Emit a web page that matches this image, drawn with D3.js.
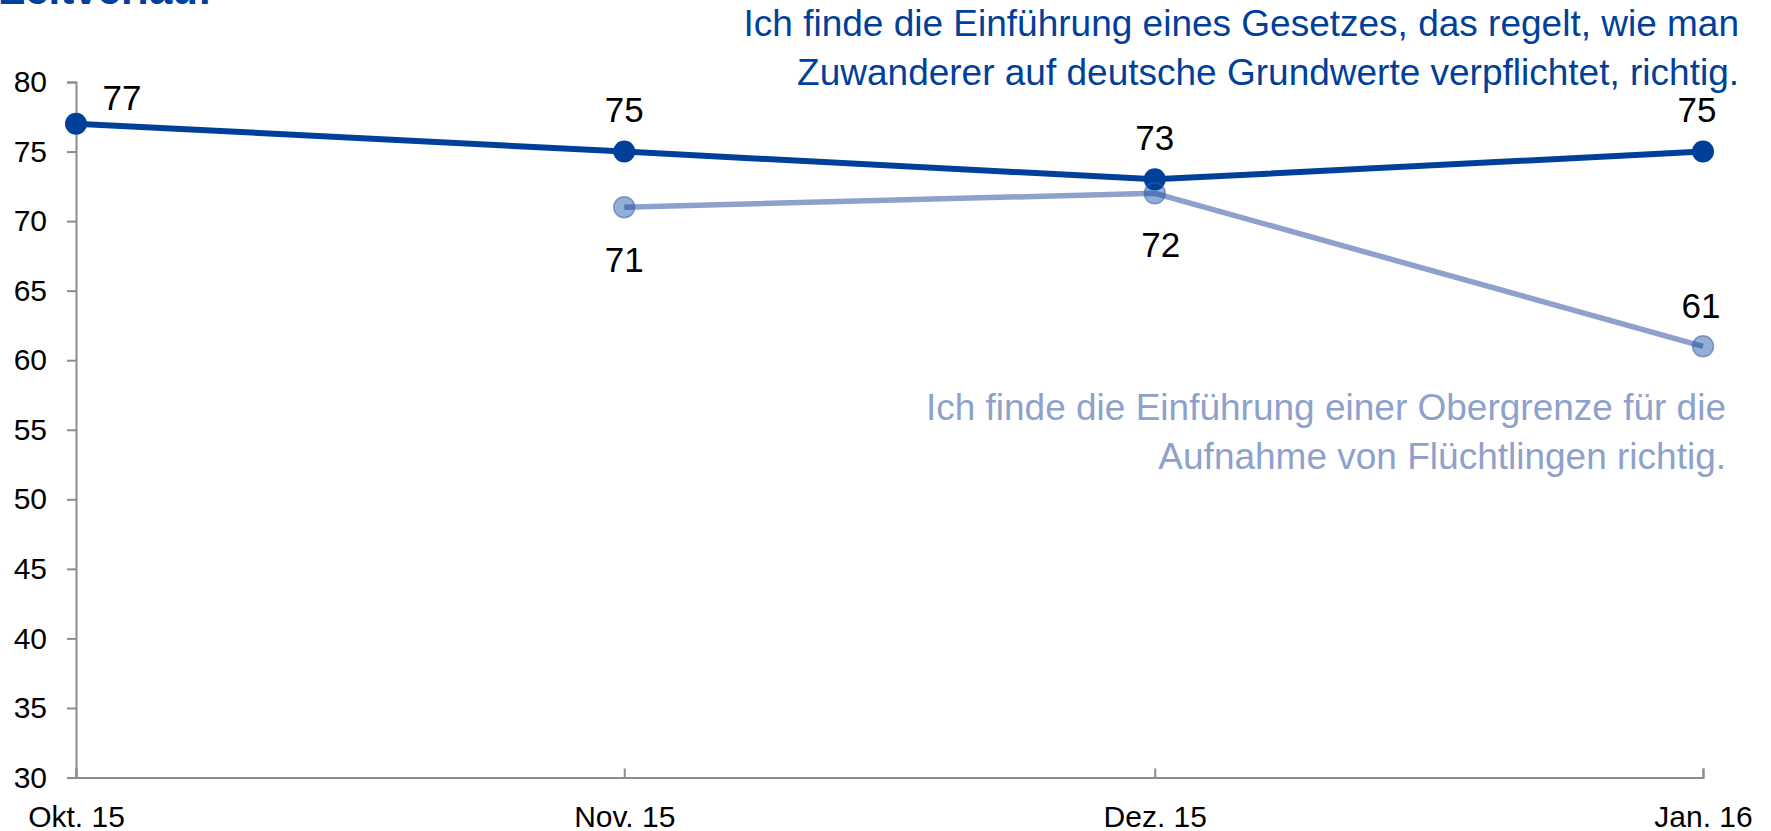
<!DOCTYPE html>
<html>
<head>
<meta charset="utf-8">
<script src="https://cdn.jsdelivr.net/npm/d3@7"></script>
<style>
  html, body { margin: 0; padding: 0; background: #fff; }
  svg { display: block; font-family: Arial, "Liberation Sans", sans-serif; }
</style>
</head>
<body>
<script>
// ---- data ----
const months = ["Okt. 15", "Nov. 15", "Dez. 15", "Jan. 16"];
const monthDates = ["2015-10-01", "2015-11-01", "2015-12-01", "2016-01-01"];
const gesetz = [77, 75, 73, 75];
const obergrenze = [null, 71, 72, 61];
const yTicks = [30, 35, 40, 45, 50, 55, 60, 65, 70, 75, 80];
const titleText = "Zeitverlauf";
const gesetzLabel = ["Ich finde die Einführung eines Gesetzes, das regelt, wie man",
                     "Zuwanderer auf deutsche Grundwerte verpflichtet, richtig."];
const obergrenzeLabel = ["Ich finde die Einführung einer Obergrenze für die",
                         "Aufnahme von Flüchtlingen richtig."];

// ---- setup ----
const W = 1771, H = 831;
const dark = "#003f9a", light = "#8ea1cc";
const svg = d3.select("body").append("svg").attr("width", W).attr("height", H);

const parse = d3.utcParse("%Y-%m-%d");
const dates = monthDates.map(parse);
const x = d3.scaleUtc().domain([dates[0], dates[dates.length - 1]]).range([76, 1703]);
const y = d3.scaleLinear().domain([30, 80]).range([777.5, 82]);

// clipped title at top
svg.append("text").attr("x", 212).attr("y", 4).attr("text-anchor", "end")
  .attr("font-size", 42).attr("font-weight", "bold").attr("fill", dark).text(titleText);

// axes
const yAxis = svg.append("g").attr("transform", `translate(${x(dates[0])},0)`)
  .call(d3.axisLeft(y).tickValues(yTicks).tickSize(9).tickPadding(20));
const xAxis = svg.append("g").attr("transform", `translate(0,${y(30)})`)
  .call(d3.axisBottom(x).tickValues(dates)
    .tickFormat((d, i) => months[i])
    .tickSizeInner(-9).tickSizeOuter(-9).tickPadding(0));
[yAxis, xAxis].forEach(g => {
  g.selectAll("path.domain, line").attr("stroke", "#8c8c8c").attr("stroke-width", 2);
  g.selectAll("text").attr("font-size", 30).attr("fill", "#000")
    .attr("font-family", "Arial, 'Liberation Sans', sans-serif");
});
xAxis.selectAll("text").attr("y", 0).attr("dy", 0).attr("transform", "translate(0,49)");

// series
const line = d3.line()
  .x(d => x(d.t)).y(d => y(d.v));
const gData = months.map((m, i) => ({ m, t: dates[i], v: gesetz[i] }));
const oData = months.map((m, i) => ({ m, t: dates[i], v: obergrenze[i] })).filter(d => d.v != null);

svg.append("path").datum(gData).attr("d", line)
  .attr("fill", "none").attr("stroke", dark).attr("stroke-width", 6);
svg.selectAll("circle.g").data(gData).join("circle").attr("class", "g")
  .attr("cx", d => x(d.t)).attr("cy", d => y(d.v)).attr("r", 11).attr("fill", dark);

svg.append("path").datum(oData).attr("d", line)
  .attr("fill", "none").attr("stroke", light).attr("stroke-width", 5.5);
svg.selectAll("circle.o").data(oData).join("circle").attr("class", "o")
  .attr("cx", d => x(d.t)).attr("cy", d => y(d.v)).attr("r", 10.5)
  .attr("fill", "rgba(0,64,154,0.42)").attr("stroke", "rgba(60,95,170,0.55)").attr("stroke-width", 1.5);

// value labels
const gOff = [[46, -14], [0, -30], [0, -29], [-6, -30]];
svg.selectAll("text.gl").data(gData).join("text").attr("class", "gl")
  .attr("x", (d, i) => x(d.t) + gOff[i][0]).attr("y", (d, i) => y(d.v) + gOff[i][1])
  .attr("text-anchor", "middle").attr("font-size", 35).attr("fill", "#000").text(d => d.v);
const oOff = { "Nov. 15": [0, 65], "Dez. 15": [6, 64], "Jan. 16": [-2, -28] };
svg.selectAll("text.ol").data(oData).join("text").attr("class", "ol")
  .attr("x", d => x(d.t) + oOff[d.m][0]).attr("y", d => y(d.v) + oOff[d.m][1])
  .attr("text-anchor", "middle").attr("font-size", 35).attr("fill", "#000").text(d => d.v);

// series annotations
svg.append("text").attr("text-anchor", "end").attr("font-size", 37).attr("fill", dark)
  .selectAll("tspan").data(gesetzLabel).join("tspan")
  .attr("x", 1739).attr("y", (d, i) => 36 + i * 49).text(d => d);
svg.append("text").attr("text-anchor", "end").attr("font-size", 37).attr("fill", light)
  .selectAll("tspan").data(obergrenzeLabel).join("tspan")
  .attr("x", 1726).attr("y", (d, i) => 420 + i * 49).text(d => d);
</script>
</body>
</html>
